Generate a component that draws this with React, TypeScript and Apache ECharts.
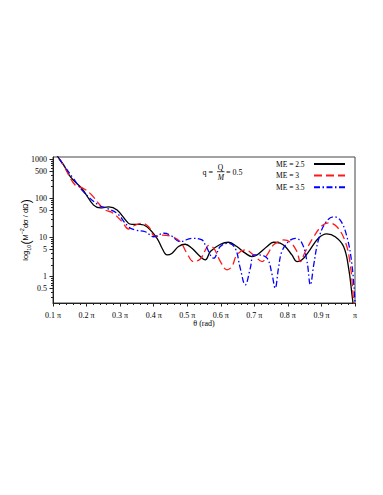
import React, { useEffect, useRef } from 'react';
import * as echarts from 'echarts';

// θ in units of π, values are M^-2 dσ/dΩ
const thetaBlack = [0.10, 0.112, 0.132, 0.152, 0.186, 0.221, 0.241, 0.266, 0.291, 0.325, 0.335, 0.360, 0.380, 0.410, 0.425, 0.440, 0.455, 0.474, 0.494, 0.514, 0.534, 0.554, 0.569, 0.599, 0.623, 0.648, 0.673, 0.693, 0.708, 0.738, 0.757, 0.777, 0.792, 0.812, 0.827, 0.842, 0.862, 0.891, 0.916, 0.941, 0.966, 0.981, 0.991, 0.997];
const valBlack = [2000, 1260, 708, 355, 180, 67.6, 57.7, 61.1, 50.4, 23.1, 21.8, 21.8, 18.9, 9.6, 5.35, 3.6, 4.0, 5.9, 6.75, 5.35, 3.6, 2.7, 4.4, 6.75, 7.6, 5.9, 4.0, 3.27, 3.6, 5.9, 7.6, 7.2, 5.9, 3.6, 2.44, 2.7, 4.4, 9.6, 12.4, 10.5, 5.9, 1.66, 0.35, 0.13];

const thetaRed = [0.10, 0.112, 0.132, 0.1665, 0.191, 0.216, 0.236, 0.256, 0.276, 0.306, 0.325, 0.335, 0.365, 0.385, 0.405, 0.425, 0.455, 0.479, 0.499, 0.519, 0.539, 0.554, 0.564, 0.579, 0.599, 0.6185, 0.633, 0.648, 0.673, 0.698, 0.723, 0.738, 0.757, 0.777, 0.787, 0.807, 0.827, 0.837, 0.852, 0.877, 0.9015, 0.921, 0.946, 0.971, 0.986, 0.996, 1.0];
const valRed = [2000, 1260, 690, 218, 180, 121, 74.6, 50.4, 44, 25.4, 16.6, 18.9, 23.1, 18.9, 10.5, 11.6, 10.5, 7.9, 4.0, 2.44, 2.85, 4.8, 6.3, 5.35, 2.44, 1.5, 1.82, 3.6, 4.83, 3.6, 2.44, 3.6, 6.5, 8.2, 8.7, 7.6, 4.4, 2.44, 4.4, 10.5, 20.1, 23.9, 18.9, 7.9, 2.0, 0.23, 0.1];

const thetaBlue = [0.10, 0.112, 0.132, 0.161, 0.191, 0.236, 0.261, 0.291, 0.325, 0.345, 0.375, 0.400, 0.430, 0.4495, 0.479, 0.514, 0.544, 0.554, 0.579, 0.5985, 0.623, 0.643, 0.658, 0.673, 0.688, 0.698, 0.713, 0.738, 0.753, 0.762, 0.772, 0.782, 0.802, 0.822, 0.842, 0.857, 0.867, 0.877, 0.891, 0.911, 0.936, 0.956, 0.976, 0.991, 1.0];
const valBlue = [2000, 1260, 708, 323, 147, 67.6, 55.7, 41.5, 18.9, 15.6, 14.1, 10.5, 12.9, 11.6, 7.9, 9.6, 8.7, 6.5, 2.97, 5.9, 7.2, 5.35, 1.66, 0.62, 1.66, 3.6, 3.6, 2.97, 1.12, 0.51, 1.66, 4.4, 7.9, 9.6, 7.2, 2.44, 0.62, 2.0, 8.7, 23.1, 34, 28, 10.5, 2.0, 0.23];

const seriesNames = ['ME = 2.5', 'ME = 3', 'ME = 3.5'];
const yMajorTicks = [0.5, 1, 5, 10, 50, 100, 500, 1000];
const yMinorTicks = [0.3, 0.4, 0.6, 0.7, 0.8, 0.9, 2, 3, 4, 6, 7, 8, 9, 20, 30, 40, 60, 70, 80, 90, 200, 300, 400, 600, 700, 800, 900];

const FONT = 'Liberation Serif';
const SANS = 'Liberation Sans';

function toLog(thetas: number[], vals: number[]) {
  return thetas.map((t, i) => [t, Math.log10(vals[i])]);
}

function fmtY(v: number) {
  const r = Math.pow(10, v);
  return r >= 1 ? String(Math.round(r)) : String(Math.round(r * 10) / 10);
}

export default function App() {
  const ref = useRef<HTMLDivElement>(null);
  useEffect(() => {
    if (!ref.current) return;
    const chart = echarts.init(ref.current, null, { renderer: 'svg' });
    const yMin = -0.672;
    const yMax = 3.06;
    chart.setOption({
      animation: false,
      backgroundColor: '#fff',
      textStyle: { fontFamily: FONT },
      grid: {
        left: 53, right: 28, top: 157, bottom: 192,
        show: true, borderColor: '#444', borderWidth: 1, backgroundColor: 'transparent',
      },
      legend: {
        orient: 'vertical',
        right: 37,
        top: 160,
        align: 'right',
        itemWidth: 31,
        itemHeight: 8,
        itemGap: 3.6,
        padding: 0,
        data: seriesNames,
        itemStyle: { opacity: 0 },
        formatter: (name: string) => '{a|' + name + '}',
        textStyle: {
          fontFamily: FONT, fontSize: 7.5, color: '#000',
          rich: { a: { width: 33, align: 'left', fontFamily: FONT, fontSize: 7.5, color: '#000', lineHeight: 8 } },
        },
      },
      xAxis: {
        type: 'value',
        min: 0.1,
        max: 1.0,
        interval: 0.1,
        name: 'θ (rad)',
        nameLocation: 'middle',
        nameGap: 3,
        nameTextStyle: { fontFamily: FONT, fontSize: 8, color: '#000' },
        axisLine: { show: true, onZero: false, lineStyle: { color: '#222', width: 1 } },
        axisTick: { show: true, length: 3.5, lineStyle: { color: '#222' } },
        minorTick: { show: true, splitNumber: 5, length: 2, lineStyle: { color: '#222' } },
        splitLine: { show: false },
        axisLabel: {
          fontFamily: FONT, fontSize: 8, color: '#000', margin: 8,
          formatter: (v: number) => (Math.abs(v - 1) < 1e-6 ? 'π' : v.toFixed(1) + ' π'),
        },
      },
      yAxis: [
        {
          type: 'value',
          min: yMin,
          max: yMax,
          name: '{t|log}{s|10}{p|(}{t|M}{u|−2}{t|dσ / dΩ}{p|)}',
          nameLocation: 'middle',
          nameGap: 21,
          nameMoveOverlap: false,
          nameTextStyle: {
            fontFamily: SANS,
            rich: {
              t: { fontFamily: SANS, fontSize: 7.5, color: '#000', lineHeight: 13, verticalAlign: 'middle' },
              s: { fontFamily: SANS, fontSize: 5.5, color: '#000', lineHeight: 13, verticalAlign: 'bottom' },
              u: { fontFamily: SANS, fontSize: 5.5, color: '#000', lineHeight: 13, verticalAlign: 'top' },
              p: { fontFamily: SANS, fontSize: 12, color: '#000', lineHeight: 13, verticalAlign: 'middle' },
            },
          },
          axisLine: { show: true, onZero: false, lineStyle: { color: '#222', width: 1 } },
          axisTick: { show: true, length: 3.5, customValues: yMajorTicks.map(Math.log10), lineStyle: { color: '#222' } },
          splitLine: { show: false },
          axisLabel: {
            fontFamily: FONT, fontSize: 8, color: '#000', margin: 6,
            customValues: yMajorTicks.map(Math.log10),
            formatter: (v: number) => fmtY(v),
          },
        },
        {
          type: 'value',
          min: yMin,
          max: yMax,
          position: 'left',
          axisLine: { show: false, onZero: false },
          axisTick: { show: true, length: 2, customValues: yMinorTicks.map(Math.log10), lineStyle: { color: '#222' } },
          splitLine: { show: false },
          axisLabel: { show: false },
        },
      ],
      graphic: [
        { type: 'text', x: 202.5, y: 172, style: { text: 'q =', font: `8px "${FONT}"`, fill: '#000', verticalAlign: 'middle' } },
        { type: 'text', x: 220.5, y: 167.3, style: { text: 'Q', font: `7.5px "${FONT}"`, fill: '#000', align: 'center', verticalAlign: 'middle' } },
        { type: 'line', shape: { x1: 217, y1: 171.7, x2: 224.5, y2: 171.7 }, style: { stroke: '#000', lineWidth: 0.7 } },
        { type: 'text', x: 220.8, y: 177, style: { text: 'M', font: `italic 7.5px "${FONT}"`, fill: '#000', align: 'center', verticalAlign: 'middle' } },
        { type: 'text', x: 226, y: 172, style: { text: '= 0.5', font: `8px "${FONT}"`, fill: '#000', verticalAlign: 'middle' } },
      ],
      series: [
        {
          name: seriesNames[0], type: 'line', symbol: 'none', smooth: 0.4,
          data: toLog(thetaBlack, valBlack),
          lineStyle: { color: '#000', width: 1.3 }, itemStyle: { color: '#000' },
        },
        {
          name: seriesNames[1], type: 'line', symbol: 'none', smooth: 0.4,
          data: toLog(thetaRed, valRed),
          lineStyle: { color: '#ff1a1a', width: 1.3, type: [8, 4] }, itemStyle: { color: '#ff1a1a' },
        },
        {
          name: seriesNames[2], type: 'line', symbol: 'none', smooth: 0.4,
          data: toLog(thetaBlue, valBlue),
          lineStyle: { color: '#0000ff', width: 1.3, type: [6, 2.5, 1.5, 2.5] }, itemStyle: { color: '#0000ff' },
        },
      ],
    });
    return () => chart.dispose();
  }, []);
  return <div ref={ref} style={{ position: 'fixed', left: 0, top: 0, width: 383, height: 495 }} />;
}
